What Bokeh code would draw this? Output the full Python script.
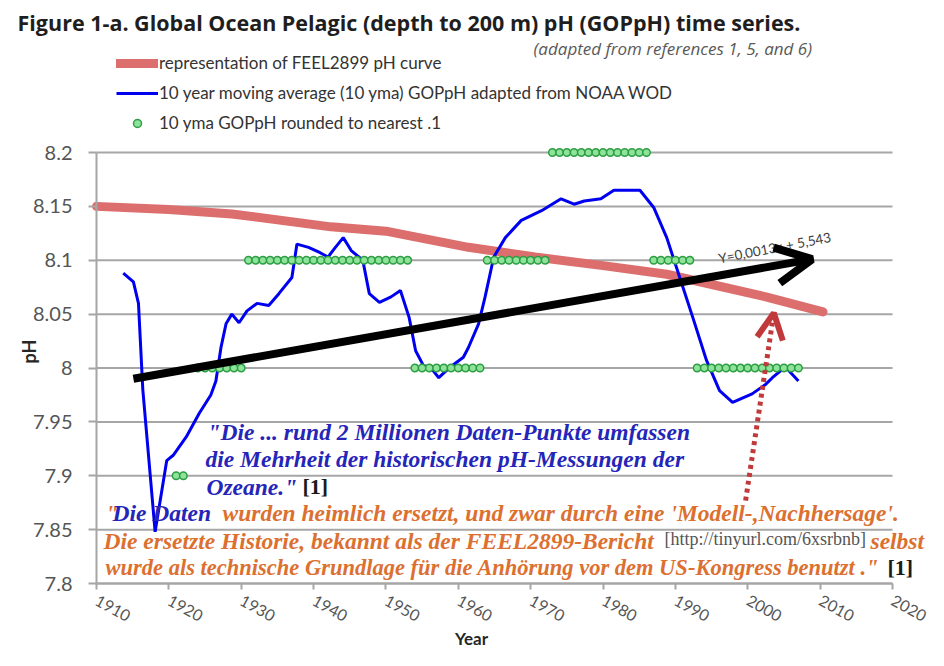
from bokeh.plotting import figure
from bokeh.models import (Label, Arrow, OpenHead, FixedTicker, CustomJSTickFormatter,
                          Legend, LegendItem, Range1d)
from bokeh.embed import file_html
from bokeh.resources import INLINE

# ---------------- data ----------------
feel_years = [1910, 1920, 1928.7, 1942.4, 1950, 1961.4, 1970.6, 1980, 1988.8, 2002.5, 2010.4]
feel_ph = [8.150, 8.147, 8.143, 8.131, 8.127, 8.112, 8.103, 8.095, 8.087, 8.066, 8.052]

yma_years = [1913.7, 1915.1, 1915.8, 1916.4, 1918.1, 1919.7, 1920.6, 1922.4, 1924.2, 1925.8,
             1926.5, 1927.2, 1927.9, 1928.7, 1929.7, 1930.8, 1932.2, 1933.8, 1935.2, 1937.0,
             1937.7, 1939.3, 1940.9, 1942.0, 1942.9, 1944.1, 1945.2, 1946.8, 1947.7, 1949.1,
             1950.7, 1952.0, 1953.2, 1954.1, 1955.2, 1956.1, 1957.3, 1958.9, 1960.7, 1961.4,
             1962.8, 1963.7, 1964.9, 1966.5, 1968.7, 1971.5, 1974.2, 1976.0, 1977.4, 1979.7,
             1981.5, 1985.1, 1987.0, 1988.8, 1990.6, 1992.4, 1994.3, 1996.1, 1997.9, 2000.6,
             2002.5, 2003.4, 2005.2, 2007.0]
yma_ph = [8.088, 8.080, 8.060, 7.980, 7.848, 7.914, 7.919, 7.936, 7.958, 7.975,
          7.988, 8.019, 8.041, 8.050, 8.042, 8.053, 8.060, 8.058, 8.069, 8.084,
          8.115, 8.112, 8.107, 8.103, 8.111, 8.121, 8.109, 8.100, 8.069, 8.061,
          8.066, 8.072, 8.047, 8.016, 8.002, 8.001, 7.991, 8.001, 8.010, 8.019,
          8.041, 8.066, 8.103, 8.121, 8.137, 8.146, 8.157, 8.152, 8.155, 8.157,
          8.165, 8.165, 8.149, 8.121, 8.084, 8.047, 8.007, 7.979, 7.968, 7.976,
          7.985, 7.991, 8.001, 7.988]

rounded_years = [1921, 1922,
                 1924, 1925, 1926, 1927, 1928, 1929, 1930,
                 1931, 1932, 1933, 1934, 1935, 1936, 1937, 1938, 1939, 1940, 1941, 1942,
                 1943, 1944, 1945, 1946, 1947, 1948, 1949, 1950, 1951, 1952, 1953,
                 1954, 1955, 1956, 1957, 1958, 1959, 1960, 1961, 1962, 1963,
                 1964, 1965, 1966, 1967, 1968, 1969, 1970, 1971, 1972,
                 1973, 1974, 1975, 1976, 1977, 1978, 1979, 1980, 1981, 1982, 1983, 1984, 1985, 1986,
                 1987, 1988, 1989, 1990, 1991, 1992,
                 1993, 1994, 1995, 1996, 1997, 1998, 1999, 2000, 2001, 2002, 2003, 2004, 2005, 2006, 2007]
rounded_ph = [7.9, 7.9,
              8.0, 8.0, 8.0, 8.0, 8.0, 8.0, 8.0,
              8.1, 8.1, 8.1, 8.1, 8.1, 8.1, 8.1, 8.1, 8.1, 8.1, 8.1, 8.1,
              8.1, 8.1, 8.1, 8.1, 8.1, 8.1, 8.1, 8.1, 8.1, 8.1, 8.1,
              8.0, 8.0, 8.0, 8.0, 8.0, 8.0, 8.0, 8.0, 8.0, 8.0,
              8.1, 8.1, 8.1, 8.1, 8.1, 8.1, 8.1, 8.1, 8.1,
              8.2, 8.2, 8.2, 8.2, 8.2, 8.2, 8.2, 8.2, 8.2, 8.2, 8.2, 8.2, 8.2, 8.2,
              8.1, 8.1, 8.1, 8.1, 8.1, 8.1,
              8.0, 8.0, 8.0, 8.0, 8.0, 8.0, 8.0, 8.0, 8.0, 8.0, 8.0, 8.0, 8.0, 8.0, 8.0]

trend_years = [1915.1, 2008.9]
trend_ph = [7.990, 8.101]
pointer_years = [1999.7, 2003.6]
pointer_ph = [7.877, 8.051]

x_ticks = [1910, 1920, 1930, 1940, 1950, 1960, 1970, 1980, 1990, 2000, 2010, 2020]
y_ticks = [7.8, 7.85, 7.9, 7.95, 8.0, 8.05, 8.1, 8.15, 8.2]

# ---------------- layout constants (pixels) ----------------
W, H = 928, 650
AX_LEFT, AX_RIGHT, AX_TOP, AX_BOTTOM = 96, 892, 152, 583
sx = (AX_RIGHT - AX_LEFT) / (x_ticks[-1] - x_ticks[0])
sy = (AX_BOTTOM - AX_TOP) / (y_ticks[-1] - y_ticks[0])
x0 = x_ticks[0] - AX_LEFT / sx
x1 = x_ticks[0] + (W - AX_LEFT) / sx
y1 = y_ticks[-1] + AX_TOP / sy
y0 = y_ticks[0] - (H - AX_BOTTOM) / sy

p = figure(width=W, height=H, output_backend="svg", toolbar_location=None,
           x_range=Range1d(x0, x1), y_range=Range1d(y0, y1),
           min_border=0, min_border_left=0, min_border_right=0,
           min_border_top=0, min_border_bottom=0)
p.outline_line_color = None
p.background_fill_color = "white"
p.border_fill_color = "white"
p.xgrid.visible = False
p.ygrid.visible = False

AX = "#a6a6a6"
p.xaxis.fixed_location = y_ticks[0]
p.yaxis.fixed_location = x_ticks[0]
p.xaxis.bounds = (x_ticks[0], x_ticks[-1])
p.yaxis.bounds = (y_ticks[0], y_ticks[-1])
p.xaxis.ticker = FixedTicker(ticks=x_ticks)
p.yaxis.ticker = FixedTicker(ticks=y_ticks)
p.yaxis.formatter = CustomJSTickFormatter(code="return String(parseFloat(tick.toFixed(2)));")
for ax in (p.xaxis, p.yaxis):
    ax.axis_line_color = AX
    ax.axis_line_width = 2
    ax.major_tick_line_color = AX
    ax.major_tick_line_width = 2
    ax.major_tick_in = 0
    ax.minor_tick_line_color = None
    ax.major_label_text_font = "Lato"
    ax.major_label_text_color = "#555555"
p.yaxis.major_label_text_font_size = "20px"
p.xaxis.major_label_text_font_size = "16px"
p.xaxis.major_tick_out = 6
p.xaxis.major_label_orientation = -0.5
p.xaxis.major_label_standoff = 10
p.yaxis.major_tick_out = 8
p.yaxis.major_label_standoff = 16

# horizontal gridlines, limited to the axis span
p.segment(x0=[x_ticks[0]] * len(y_ticks), x1=[x_ticks[-1]] * len(y_ticks),
          y0=y_ticks, y1=y_ticks, line_color=AX, line_width=2)

# ---------------- series ----------------
r_feel = p.line(feel_years, feel_ph, line_color="#dc6e6e", line_width=9, line_cap="round")
r_yma = p.line(yma_years, yma_ph, line_color="#0000f0", line_width=3)
r_round = p.scatter(rounded_years, rounded_ph, size=7.5, marker="circle",
                    line_color="#2e9e44", fill_color="#8ee39a", line_width=1.5)

legend = Legend(items=[LegendItem(label="representation of FEEL2899 pH curve", renderers=[r_feel]),
                       LegendItem(label="10 year moving average (10 yma) GOPpH adapted from NOAA WOD", renderers=[r_yma]),
                       LegendItem(label="10 yma GOPpH rounded to nearest .1", renderers=[r_round])],
                location=(116, H - 133), orientation="vertical", glyph_width=42, glyph_height=20,
                label_height=20, spacing=9, padding=0, margin=0, border_line_color=None,
                background_fill_alpha=0, label_text_font="Lato", label_text_font_size="17px",
                label_text_color="#333333", label_standoff=1)
p.add_layout(legend)

# ---------------- texts ----------------
def lab(text, X, Y, size, color, font="Liberation Serif", style="bold italic",
        align="left", baseline="alphabetic", angle=0.0):
    p.add_layout(Label(x=X, y=H - Y, x_units="screen", y_units="screen", text=text,
                       text_font=font, text_font_size=size, text_font_style=style,
                       text_color=color, text_align=align, text_baseline=baseline, angle=angle))

lab("Figure 1-a. Global Ocean  Pelagic (depth to 200 m) pH (GOPpH) time series.", 17, 22,
    "21.5px", "#1e1e1e", font="Open Sans", style="bold", baseline="middle")
lab("(adapted from references 1, 5, and 6)", 533, 48, "17px", "#595959", font="Open Sans",
    style="italic", baseline="middle")
lab("pH", 28, 351, "18px", "#262626", font="Lato", style="bold", align="center",
    baseline="middle", angle=1.5708)
lab("Year", 471, 638, "17px", "#262626", font="Lato", style="bold", align="center",
    baseline="middle")
lab("Y=0,0013x + 5,543", 718, 258, "13.5px", "#404040", font="Lato", style="normal", angle=0.19)

BLUE = "#2525b8"
ORANGE = "#dc7030"
SZ = "23.5px"
lab('"Die ... rund 2 Millionen Daten-Punkte umfassen', 207, 431, SZ, BLUE)
lab("die Mehrheit der historischen pH-Messungen der", 205, 458, SZ, BLUE)
lab('Ozeane."', 206, 486, SZ, BLUE)
lab("[1]", 302, 486, "22px", "#1a1a1a", style="bold")
lab('"', 105, 512, SZ, ORANGE)
lab("Die Daten", 112, 512, SZ, BLUE)
lab("wurden heimlich ersetzt, und zwar durch eine 'Modell-,Nachhersage'.", 222, 512, SZ, ORANGE)
lab("Die ersetzte Historie, bekannt als der FEEL2899-Bericht", 103, 540, SZ, ORANGE)
lab("[http://tinyurl.com/6xsrbnb]", 664, 538, "18px", "#555555", style="normal")
lab("selbst", 870, 540, SZ, ORANGE)
lab('wurde als technische Grundlage für die Anhörung vor dem US-Kongress benutzt ."', 105, 567,
    "22.5px", ORANGE)
lab("[1]", 887, 567, "22px", "#1a1a1a", style="bold")

# ---------------- arrows ----------------
p.add_layout(Arrow(end=OpenHead(size=36, line_width=8, line_color="black"),
                   x_start=trend_years[0], y_start=trend_ph[0],
                   x_end=trend_years[1], y_end=trend_ph[1],
                   line_width=8, line_color="black"))
p.add_layout(Arrow(end=OpenHead(size=26, line_width=6, line_color="#c0393b"),
                   x_start=pointer_years[0], y_start=pointer_ph[0],
                   x_end=pointer_years[1], y_end=pointer_ph[1],
                   line_width=5, line_color="#c0393b", line_dash="4 4"))

open("out.html", "w").write(file_html(p, INLINE))
